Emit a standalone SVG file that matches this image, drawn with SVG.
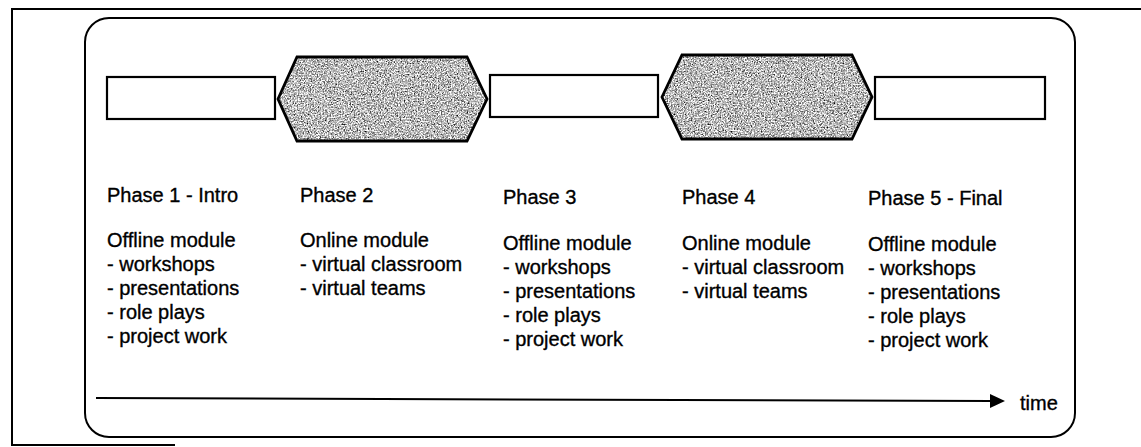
<svg xmlns="http://www.w3.org/2000/svg" width="1141" height="447" viewBox="0 0 1141 447">
<defs>
<style>
.frame{fill:none;stroke:#000;stroke-width:2}
.box{fill:#fff;stroke:#000;stroke-width:2.2}
.hex{stroke:#000;stroke-width:2.8;fill:none}
.t{font-family:"Liberation Sans",Arial,sans-serif;font-size:20px;fill:#000;stroke:#000;stroke-width:0.35}
</style>
<filter id="grain" x="0" y="0" width="100%" height="100%" color-interpolation-filters="sRGB">
<feTurbulence type="fractalNoise" baseFrequency="0.7" numOctaves="4" seed="7" result="n"/>
<feColorMatrix in="n" type="matrix" values="0.33 0.33 0.33 0 0  0.33 0.33 0.33 0 0  0.33 0.33 0.33 0 0  0 0 0 0 1" result="g"/>
<feComponentTransfer in="g" result="c">
<feFuncR type="linear" slope="3.0" intercept="-0.76"/>
<feFuncG type="linear" slope="3.0" intercept="-0.76"/>
<feFuncB type="linear" slope="3.0" intercept="-0.76"/>
</feComponentTransfer>
<feComposite in="c" in2="SourceGraphic" operator="in"/>
</filter>
</defs>
<rect width="1141" height="447" fill="#fff"/>
<g id="outer-frame">
<path class="frame" d="M1141,9 H12 V445 H175" stroke-width="1.6"/>
</g>
<g id="timeline-frame">
<rect class="frame" x="85" y="18" width="990" height="419" rx="24" ry="24"/>
</g>
<g id="phase1-box"><rect class="box" x="107" y="77" width="168" height="42"/></g>
<g id="phase2-hex">
<polygon points="278,99 297,57 467,57 487,99 467,141 297,141" fill="#fff" filter="url(#grain)"/>
<polygon class="hex" points="278,99 297,57 467,57 487,99 467,141 297,141"/>
</g>
<g id="phase3-box"><rect class="box" x="490" y="75" width="168" height="42"/></g>
<g id="phase4-hex">
<polygon points="662,97 682,55 852,55 872,97 852,139 682,139" fill="#fff" filter="url(#grain)"/>
<polygon class="hex" points="662,97 682,55 852,55 872,97 852,139 682,139"/>
</g>
<g id="phase5-box"><rect class="box" x="875" y="77" width="170" height="42"/></g>
<g id="phase1-text" class="t">
<text x="107" y="202">Phase 1 - Intro</text>
<text x="107" y="247">Offline module</text>
<text x="107" y="271">- workshops</text>
<text x="107" y="295">- presentations</text>
<text x="107" y="319">- role plays</text>
<text x="107" y="343">- project work</text>
</g>
<g id="phase2-text" class="t">
<text x="300" y="202">Phase 2</text>
<text x="300" y="247">Online module</text>
<text x="300" y="271">- virtual classroom</text>
<text x="300" y="295">- virtual teams</text>
</g>
<g id="phase3-text" class="t">
<text x="503" y="204">Phase 3</text>
<text x="503" y="250">Offline module</text>
<text x="503" y="274">- workshops</text>
<text x="503" y="298">- presentations</text>
<text x="503" y="322">- role plays</text>
<text x="503" y="346">- project work</text>
</g>
<g id="phase4-text" class="t">
<text x="682" y="204">Phase 4</text>
<text x="682" y="250">Online module</text>
<text x="682" y="274">- virtual classroom</text>
<text x="682" y="298">- virtual teams</text>
</g>
<g id="phase5-text" class="t">
<text x="868" y="205">Phase 5 - Final</text>
<text x="868" y="251">Offline module</text>
<text x="868" y="275">- workshops</text>
<text x="868" y="299">- presentations</text>
<text x="868" y="323">- role plays</text>
<text x="868" y="347">- project work</text>
</g>
<g id="connectors">
<line x1="96" y1="398" x2="992" y2="401" stroke="#000" stroke-width="2"/>
<polygon points="990,394 1005,401 990,408" fill="#000"/>
</g>
<g id="time-label" class="t"><text x="1020" y="410">time</text></g>
</svg>
